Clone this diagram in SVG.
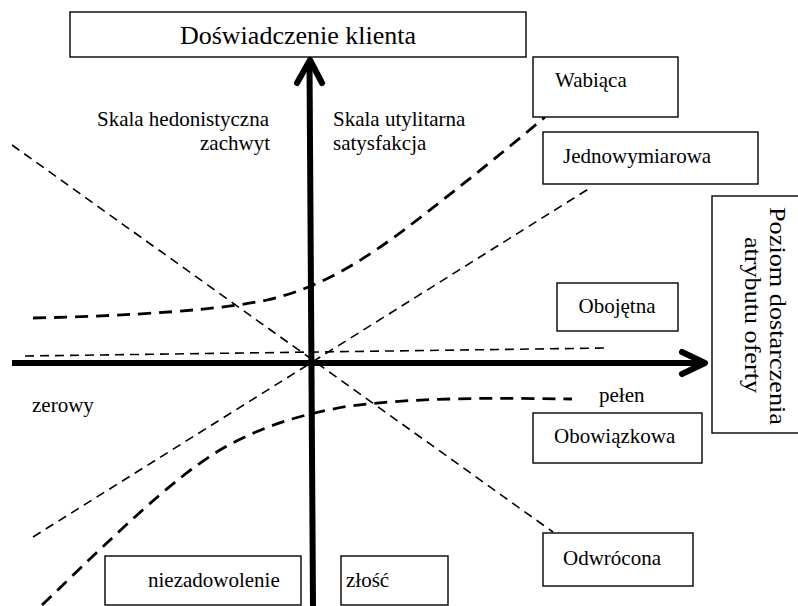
<svg xmlns="http://www.w3.org/2000/svg" width="798" height="606" viewBox="0 0 798 606">
<style>
  .box { fill: #fff; stroke: #000; stroke-width: 1.4; }
  .t { font-family: "Liberation Serif", "Times New Roman", serif; font-size: 21px; fill: #000; }
  .title { font-size: 26px; }
  .axis { fill: none; stroke: #000; stroke-width: 6; }
  .head { fill: none; stroke: #000; stroke-width: 6; stroke-linecap: round; stroke-linejoin: round; }
  .thin { fill: none; stroke: #000; stroke-width: 1.6; stroke-dasharray: 9 6; }
  .thick { fill: none; stroke: #000; stroke-width: 2.8; stroke-dasharray: 13 8; }
</style>
<rect width="798" height="606" fill="#fff"/>
<g id="connectors">
  <path class="thin" d="M12,145 L553,532"/>
  <path class="thin" d="M33,537 L590,188"/>
  <path class="thin" d="M25,356 L607,348"/>
  <path class="thick" d="M33,318 C130,316 220,310 267,300 C320,288 360,262 400,233 C450,195 500,155 545,117"/>
  <path class="thick" d="M42,605 C110,540 170,480 220,450 C260,427 300,414 350,406 C420,397 500,398 572,399"/>
  <path class="axis" d="M313,606 L309.5,64"/>
  <path class="head" d="M297,83 L310,60 L322,83"/>
  <path class="axis" d="M12,363 L702,363"/>
  <path class="head" d="M682,352 L705,363 L682,374"/>
</g>
<g id="node-doswiadczenie">
  <rect class="box" x="70" y="12" width="456" height="45"/>
  <text class="t title" x="298" y="44" text-anchor="middle">Doświadczenie klienta</text>
</g>
<g id="node-wabiaca">
  <rect class="box" x="533" y="57" width="145" height="60"/>
  <text class="t" x="555" y="87">Wabiąca</text>
</g>
<g id="node-jednowymiarowa">
  <rect class="box" x="543" y="132" width="215" height="52"/>
  <text class="t" x="563" y="163">Jednowymiarowa</text>
</g>
<g id="node-poziom">
  <rect class="box" x="712" y="196" width="95" height="237"/>
  <text class="t" transform="translate(770,316) rotate(90)" text-anchor="middle" style="font-size:24px" textLength="218" lengthAdjust="spacingAndGlyphs">Poziom dostarczenia</text>
  <text class="t" transform="translate(745,315) rotate(90)" text-anchor="middle" style="font-size:24px" textLength="156" lengthAdjust="spacingAndGlyphs">atrybutu oferty</text>
</g>
<g id="node-obojetna">
  <rect class="box" x="557" y="283" width="121" height="48"/>
  <text class="t" x="617" y="313" text-anchor="middle">Obojętna</text>
</g>
<g id="node-obowiazkowa">
  <rect class="box" x="533" y="413" width="169" height="50"/>
  <text class="t" x="554" y="443">Obowiązkowa</text>
</g>
<g id="node-odwrocona">
  <rect class="box" x="543" y="533" width="150" height="53"/>
  <text class="t" x="563" y="565">Odwrócona</text>
</g>
<g id="node-niezadowolenie">
  <rect class="box" x="105" y="556" width="196" height="49"/>
  <text class="t" x="148" y="587">niezadowolenie</text>
</g>
<g id="node-zlosc">
  <rect class="box" x="341" y="556" width="107" height="49"/>
  <text class="t" x="346" y="587">złość</text>
</g>
<g id="labels">
  <text class="t" x="269" y="126" text-anchor="end">Skala hedonistyczna</text>
  <text class="t" x="270" y="150" text-anchor="end">zachwyt</text>
  <text class="t" x="333" y="126">Skala utylitarna</text>
  <text class="t" x="333" y="150">satysfakcja</text>
  <text class="t" x="32" y="412">zerowy</text>
  <text class="t" x="599" y="402">pełen</text>
</g>
</svg>
